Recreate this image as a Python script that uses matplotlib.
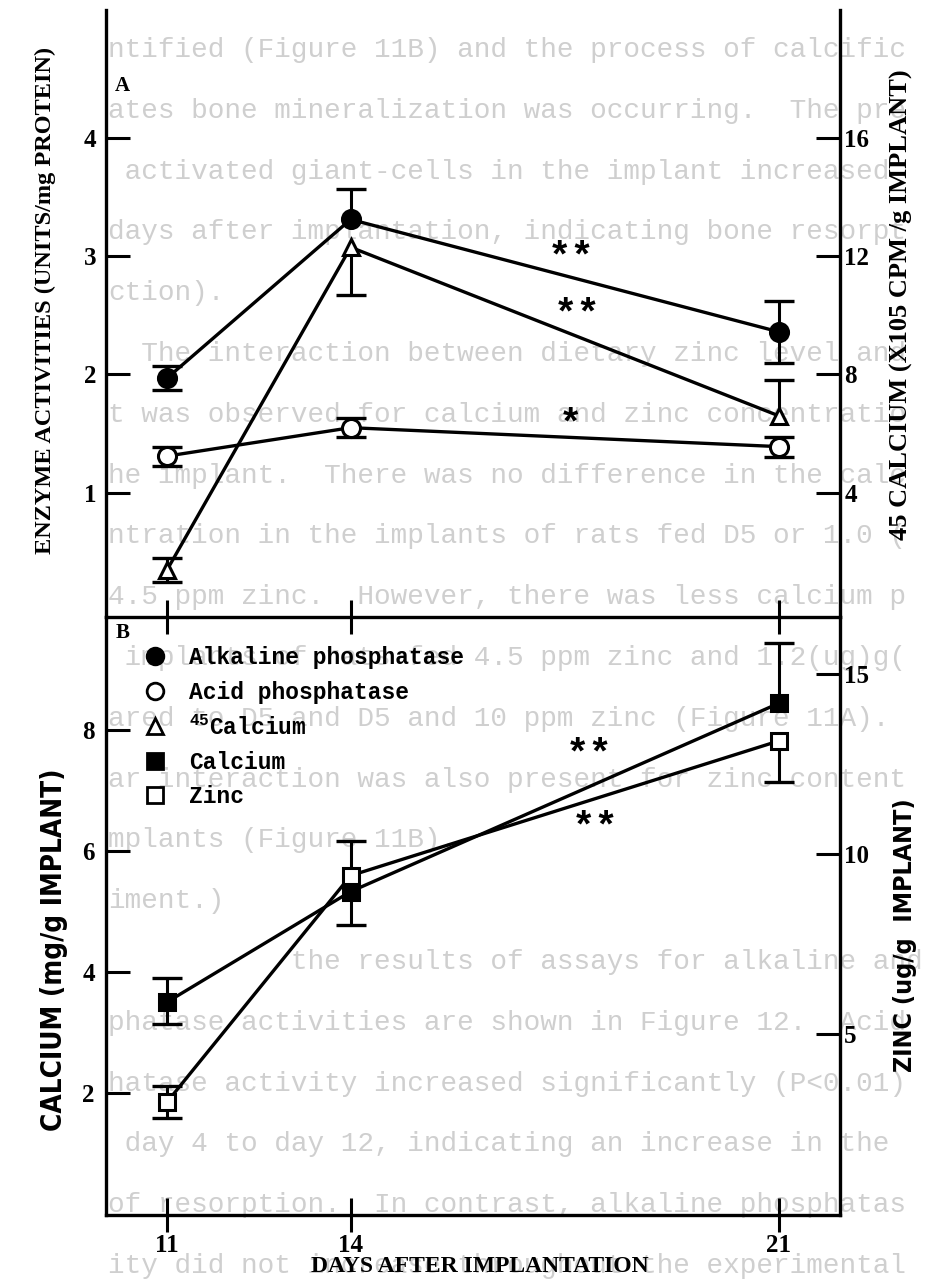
import numpy as np
import matplotlib.pyplot as plt
from matplotlib.lines import Line2D
from matplotlib.transforms import Bbox
from matplotlib.font_manager import FontProperties

plt.rcParams['font.family'] = ['Liberation Serif', 'DejaVu Serif']
plt.rcParams['font.weight'] = 'bold'
plt.rcParams['mathtext.fontset'] = 'custom'
plt.rcParams['mathtext.rm'] = 'Liberation Mono:bold'

days = [11, 14, 21]

# A: enzyme activities, units/mg protein
alk = [1.97, 3.31, 2.36]
alk_lo = [0.10, 0.0, 0.26]
alk_hi = [0.10, 0.26, 0.26]
acid = [1.31, 1.55, 1.39]
acid_lo = [0.08, 0.08, 0.085]
acid_hi = [0.08, 0.08, 0.085]
# A, right axis: 45Ca, x10^5 cpm/g implant
ca45 = [1.4, 12.3, 6.6]
ca45_lo = [0.4, 1.6, 0.0]
ca45_hi = [0.4, 0.0, 1.2]

# B: calcium (mg/g implant) and zinc (ug/g implant)
calcium = [3.5, 5.33, 8.45]
calcium_lo = [0.36, 0.56, 0.0]
calcium_hi = [0.40, 0.0, 1.0]
zinc = [3.1, 9.4, 13.15]
zinc_lo = [0.45, 0.0, 1.15]
zinc_hi = [0.45, 0.95, 0.0]

# significance marks (day, value, text)
stars_a = [(17.6, 2.99, '**'), (17.7, 2.51, '**'), (17.6, 1.58, '*')]
stars_b = [(17.9, 7.6, '**'), (18.0, 6.4, '**')]

legend_labels = ['Alkaline phosphatase', 'Acid phosphatase', r'$^{45}$Calcium',
                 'Calcium', 'Zinc']

# page text printed underneath the figure
page_lines = [
    "ntified (Figure 11B) and the process of calcific",
    "ates bone mineralization was occurring.  The pre",
    " activated giant-cells in the implant increased",
    "days after implantation, indicating bone resorpt",
    "ction).",
    "  The interaction between dietary zinc level and",
    "t was observed for calcium and zinc concentratio",
    "he implant.  There was no difference in the calc",
    "ntration in the implants of rats fed D5 or 1.0 (",
    "4.5 ppm zinc.  However, there was less calcium p",
    " implants of rats fed 4.5 ppm zinc and 1.2(ug)g(",
    "ared to D5 and D5 and 10 ppm zinc (Figure 11A).",
    "ar interaction was also present for zinc content",
    "mplants (Figure 11B).",
    "iment.)",
    "           the results of assays for alkaline and",
    "phatase activities are shown in Figure 12.  Acid",
    "hatase activity increased significantly (P<0.01)",
    " day 4 to day 12, indicating an increase in the",
    "of resorption.  In contrast, alkaline phosphatas",
    "ity did not increase throughout the experimental",
]

W, H = 934, 1284


def fx(px):
    return px / W


def fy(py):
    return 1 - py / H


fig = plt.figure(figsize=(W / 100, H / 100), dpi=100)
fig.patch.set_facecolor('white')

left, right = 106, 840
axA = fig.add_axes([fx(left), fy(617), fx(right) - fx(left), (617 - 10) / H])
axB = fig.add_axes([fx(left), fy(1215), fx(right) - fx(left), (1215 - 617) / H])
axA2 = axA.twinx()
axB2 = axB.twinx()
for ax in (axA, axB, axA2, axB2):
    ax.patch.set_visible(False)

# faint page text, only visible right of the left axis
clip = Bbox.from_extents(left, 0, W, H)
for i, line in enumerate(page_lines):
    t = fig.text(fx(108), fy(50 + 60.8 * i), line, family='Liberation Mono',
                 weight='normal', fontsize=20, color='#cfcfcf', va='center',
                 ha='left', zorder=-5)
    t.set_clip_box(clip)


def series(ax, y, lo, hi, marker, ms, face):
    x = np.array(days, dtype=float)
    y = np.array(y)
    lo = np.array(lo)
    hi = np.array(hi)
    ax.vlines(x, y - lo, y + hi, color='black', lw=2.2, zorder=2)
    cx = np.concatenate([x[lo > 0], x[hi > 0]])
    cy = np.concatenate([(y - lo)[lo > 0], (y + hi)[hi > 0]])
    ax.plot(cx, cy, ls='none', marker='_', ms=22, mew=2.4, color='black', zorder=2)
    ax.plot(x, y, color='black', lw=2.4, marker=marker, ms=ms, mfc=face,
            mec='black', mew=2.2, zorder=3)


series(axA, alk, alk_lo, alk_hi, 'o', 13, 'black')
series(axA, acid, acid_lo, acid_hi, 'o', 13, 'white')
series(axA2, ca45, ca45_lo, ca45_hi, '^', 12, 'white')
series(axB, calcium, calcium_lo, calcium_hi, 's', 11, 'black')
series(axB2, zinc, zinc_lo, zinc_hi, 's', 11, 'white')

axA.set_xlim(10, 22)
axB.set_xlim(10, 22)
axA.set_ylim(-0.05, 5.08)
axA2.set_ylim(-0.2, 20.32)
axB.set_ylim(-0.03, 9.88)
axB2.set_ylim(-0.05, 16.6)

axA.set_yticks([1, 2, 3, 4])
axA2.set_yticks([4, 8, 12, 16])
axB.set_yticks([2, 4, 6, 8])
axB2.set_yticks([5, 10, 15])
axA.set_xticks(days)
axB.set_xticks(days)

for ax in (axA, axB, axA2, axB2):
    for s in ax.spines.values():
        s.set_linewidth(2.4)
    ax.spines['top'].set_visible(False)
for ax in (axA2, axB2):
    ax.spines['left'].set_visible(False)
    ax.spines['bottom'].set_visible(False)
for ax in (axA, axB):
    ax.spines['right'].set_visible(False)

tick_font = dict(labelsize=18)
axA.tick_params(axis='x', direction='inout', length=24, width=2.2, labelbottom=False)
axB.tick_params(axis='x', direction='inout', length=24, width=2.2, pad=2, **tick_font)
axA.tick_params(axis='y', direction='in', length=17, width=2.2, pad=7, **tick_font)
axB.tick_params(axis='y', direction='in', length=17, width=2.2, pad=8, **tick_font)
axA2.tick_params(axis='y', direction='in', length=17, width=2.2, pad=3, **tick_font)
axB2.tick_params(axis='y', direction='in', length=17, width=2.2, pad=3, **tick_font)

star_kw = dict(ha='center', va='center', fontsize=28, family='Liberation Mono',
               weight='bold', zorder=4)
for d, v, s in stars_a:
    axA.text(d, v, s, **star_kw)
for d, v, s in stars_b:
    axB.text(d, v, s, **star_kw)

# axis titles
serif = dict(family=['Liberation Serif', 'DejaVu Serif'], weight='bold')
narrow = dict(family=['Liberation Sans Narrow', 'DejaVu Sans'], weight='bold',
              stretch='condensed')
fig.text(fx(45), fy(300), 'ENZYME ACTIVITIES (UNITS/mg PROTEIN)', rotation=90,
         ha='center', va='center', fontsize=17.5, **serif)
fig.text(fx(901), fy(305), '45 CALCIUM (X105 CPM /g IMPLANT)', rotation=90,
         ha='center', va='center', fontsize=19, **serif)
fig.text(fx(54), fy(950), 'CALCIUM (mg/g IMPLANT)', rotation=90,
         ha='center', va='center', fontsize=20, **narrow)
fig.text(fx(905), fy(935), 'ZINC (ug/g  IMPLANT)', rotation=90,
         ha='center', va='center', fontsize=18, **narrow)
fig.text(fx(480), fy(1266), 'DAYS AFTER IMPLANTATION', ha='center', va='center',
         fontsize=17, **serif)
fig.text(fx(122), fy(86), 'A', ha='center', va='center', fontsize=15, **serif)
fig.text(fx(123), fy(633), 'B', ha='center', va='center', fontsize=15, **serif)

handles = [
    Line2D([], [], ls='none', marker='o', ms=12, mfc='black', mec='black', mew=2),
    Line2D([], [], ls='none', marker='o', ms=12, mfc='white', mec='black', mew=2),
    Line2D([], [], ls='none', marker='^', ms=11, mfc='white', mec='black', mew=2),
    Line2D([], [], ls='none', marker='s', ms=11, mfc='black', mec='black', mew=2),
    Line2D([], [], ls='none', marker='s', ms=11, mfc='white', mec='black', mew=2),
]
axB2.legend(handles, legend_labels, loc='upper left', bbox_to_anchor=(0.051, 0.951),
            frameon=False, handlelength=1.0, handletextpad=1.0, labelspacing=0.5,
            borderpad=0, borderaxespad=0,
            prop=FontProperties(family='Liberation Mono', weight='bold', size=16.5))

fig.savefig('out.png', dpi=100, facecolor='white')
